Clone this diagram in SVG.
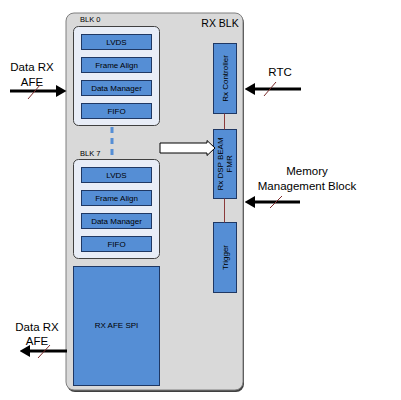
<svg xmlns="http://www.w3.org/2000/svg" width="401" height="400" viewBox="0 0 401 400">
<defs>
<style>
.outer{fill:#d9d9d9;stroke:#7f7f7f;stroke-width:1}
.blk{fill:#e8edf7;stroke:#404040;stroke-width:1}
.sub{fill:#558ed5;stroke:#1f3864;stroke-width:1}
.t{font-family:"Liberation Sans",Arial,sans-serif;fill:#000}
.s{font-size:8px;text-anchor:middle}
.ext{font-size:11.5px;text-anchor:middle}
.arr{stroke:#000;stroke-width:3;fill:none}
.slash{stroke:#7b2c2c;stroke-width:1}
.link{stroke:#8b3a3a;stroke-width:1}
</style>
<marker id="ah" markerWidth="3.5" markerHeight="4" refX="0" refY="2" orient="auto" markerUnits="strokeWidth">
<path d="M0,0 L3.5,2 L0,4 Z" fill="#000"/>
</marker>
</defs>
<g id="rx-blk">
<rect x="67" y="15" width="177" height="377" rx="8" fill="#404040"/>
<rect class="outer" x="66" y="13" width="177" height="377" rx="8"/>
<text class="t" x="220" y="27" font-size="10.5" text-anchor="middle">RX BLK</text>
</g>
<g id="blk0">
<text class="t" x="80" y="22" font-size="7.5">BLK 0</text>
<rect class="blk" x="73.5" y="26.5" width="86" height="99" rx="5"/>
<rect class="sub" x="81.5" y="34.5" width="70" height="15"/>
<text class="t s" x="116.5" y="45">LVDS</text>
<rect class="sub" x="81.5" y="57.5" width="70" height="15"/>
<text class="t s" x="116.5" y="68">Frame Align</text>
<rect class="sub" x="81.5" y="80.5" width="70" height="15"/>
<text class="t s" x="116.5" y="91">Data Manager</text>
<rect class="sub" x="81.5" y="103.5" width="70" height="15"/>
<text class="t s" x="116.5" y="114">FIFO</text>
</g>
<g id="blk7">
<text class="t" x="80" y="156" font-size="7.5">BLK 7</text>
<rect class="blk" x="73.5" y="159.5" width="86" height="99" rx="5"/>
<rect class="sub" x="81.5" y="167.5" width="70" height="15"/>
<text class="t s" x="116.5" y="178">LVDS</text>
<rect class="sub" x="81.5" y="190.5" width="70" height="15"/>
<text class="t s" x="116.5" y="201">Frame Align</text>
<rect class="sub" x="81.5" y="213.5" width="70" height="15"/>
<text class="t s" x="116.5" y="224">Data Manager</text>
<rect class="sub" x="81.5" y="236.5" width="70" height="15"/>
<text class="t s" x="116.5" y="247">FIFO</text>
</g>
<g id="rx-afe-spi">
<rect class="sub" x="73.5" y="266.5" width="86" height="119"/>
<text class="t s" x="116.5" y="328" font-size="7.5">RX AFE SPI</text>
</g>
<g id="rx-controller">
<rect class="sub" x="213.5" y="43.5" width="23" height="70"/>
<text class="t s" transform="translate(227.5,78.5) rotate(-90)">Rx Controller</text>
</g>
<g id="rx-dsp">
<rect class="sub" x="213.5" y="129.5" width="23" height="69"/>
<text class="t s" transform="translate(223,164) rotate(-90)">Rx DSP BEAM</text>
<text class="t s" transform="translate(232,164) rotate(-90)">FMR</text>
</g>
<g id="trigger">
<rect class="sub" x="213.5" y="222.5" width="23" height="70"/>
<text class="t s" transform="translate(227.5,257.5) rotate(-90)">Trigger</text>
</g>
<g id="labels">
<text class="t ext" x="32" y="71">Data RX</text>
<text class="t ext" x="32" y="86">AFE</text>
<text class="t ext" x="280" y="76">RTC</text>
<text class="t ext" x="307" y="175">Memory</text>
<text class="t ext" x="307" y="190">Management Block</text>
<text class="t ext" x="37" y="331">Data RX</text>
<text class="t ext" x="37" y="345">AFE</text>
</g>
<g id="connectors">
<line x1="112" y1="127" x2="112" y2="159" stroke="#558ed5" stroke-width="3" stroke-dasharray="6,5"/>
<line class="link" x1="224.5" y1="113.5" x2="224.5" y2="129.5"/>
<line class="link" x1="224.5" y1="198.5" x2="224.5" y2="222.5"/>
<path d="M160,143 L207,143 L207,140.5 L215,148 L207,155.5 L207,153 L160,153 Z" fill="#fff" stroke="#000" stroke-width="1"/>
<line class="arr" x1="10" y1="91" x2="56" y2="91" marker-end="url(#ah)"/>
<line class="slash" x1="28" y1="99" x2="40" y2="85"/>
<line class="arr" x1="301" y1="89" x2="255" y2="89" marker-end="url(#ah)"/>
<line class="slash" x1="264" y1="96" x2="276" y2="82"/>
<line class="arr" x1="300" y1="202" x2="255" y2="202" marker-end="url(#ah)"/>
<line class="slash" x1="270" y1="208" x2="282" y2="196"/>
<line class="arr" x1="67" y1="351" x2="30" y2="351" marker-end="url(#ah)"/>
<line class="slash" x1="38" y1="358" x2="50" y2="345"/>
</g>
</svg>
